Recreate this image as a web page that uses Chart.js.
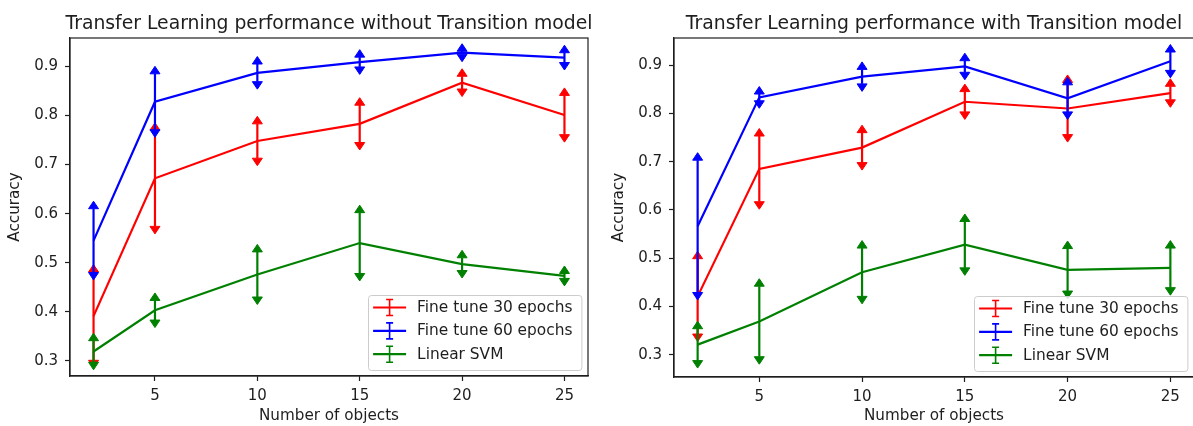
<!DOCTYPE html>
<html><head><meta charset="utf-8">
<script src="https://cdn.jsdelivr.net/npm/chart.js@4"></script>
<style>
html,body{margin:0;padding:0;background:#fff;}
body{width:1193px;height:426px;overflow:hidden;position:relative;}
.panel{position:absolute;top:0;width:600px;height:426px;}
canvas{display:block;}
</style></head><body>
<div class="panel" style="left:0"><canvas id="c1" width="600" height="426"></canvas></div>
<div class="panel" style="left:600px"><canvas id="c2" width="600" height="426"></canvas></div>
<script>
// ---- data ----
const numObjects = [2, 5, 10, 15, 20, 25];
const xTicks = [5, 10, 15, 20, 25];
const xTickLabels = ['5', '10', '15', '20', '25'];
const yTicks = [0.3, 0.4, 0.5, 0.6, 0.7, 0.8, 0.9];
const yTickLabels = ['0.3', '0.4', '0.5', '0.6', '0.7', '0.8', '0.9'];
const seriesLabels = ['Fine tune 30 epochs', 'Fine tune 60 epochs', 'Linear SVM'];
const seriesColors = ['#ff0000', '#0000ff', '#008000'];
const titleLeft = 'Transfer Learning performance without Transition model';
const titleRight = 'Transfer Learning performance with Transition model';
const xAxisLabel = 'Number of objects';
const yAxisLabel = 'Accuracy';

// without transition model
const noTrans30 = [0.391, 0.672, 0.748, 0.783, 0.867, 0.801];
const noTrans30Err = [0.090, 0.098, 0.035, 0.038, 0.013, 0.040];
const noTrans60 = [0.545, 0.828, 0.887, 0.909, 0.928, 0.918];
const noTrans60Err = [0.065, 0.057, 0.018, 0.010, 0.003, 0.010];
const noTransSVM = [0.319, 0.403, 0.476, 0.540, 0.497, 0.473];
const noTransSVMErr = [0.022, 0.020, 0.046, 0.062, 0.013, 0.005];

// with transition model
const withTrans30 = [0.421, 0.685, 0.729, 0.824, 0.810, 0.842];
const withTrans30Err = [0.078, 0.068, 0.031, 0.021, 0.054, 0.014];
const withTrans60 = [0.566, 0.833, 0.876, 0.897, 0.831, 0.908];
const withTrans60Err = [0.137, 0.007, 0.015, 0.012, 0.028, 0.019];
const withTransSVM = [0.321, 0.369, 0.471, 0.528, 0.476, 0.480];
const withTransSVMErr = [0.033, 0.073, 0.050, 0.048, 0.044, 0.041];

// ---- plugins ----
const FONT = '"DejaVu Sans", sans-serif';
const TEXT = '#1e1e1e';

const errorBarPlugin = {
  id: 'errbars',
  afterDatasetDraw(chart, args) {
    const ds = chart.data.datasets[args.index];
    if (!ds.errors) return;
    const xs = chart.scales.x, ys = chart.scales.y, ctx = chart.ctx;
    ctx.save();
    ctx.strokeStyle = ds.borderColor;
    ctx.fillStyle = ds.borderColor;
    ctx.lineJoin = 'miter';
    ds.data.forEach((p, i) => {
      const e = ds.errors[i];
      const px = xs.getPixelForValue(p.x);
      const yt = ys.getPixelForValue(p.y + e);
      const yb = ys.getPixelForValue(p.y - e);
      ctx.lineWidth = 2.2;
      ctx.beginPath(); ctx.moveTo(px, yb); ctx.lineTo(px, yt); ctx.stroke();
      ctx.lineWidth = 1;
      ctx.beginPath();
      ctx.moveTo(px - 5, yt); ctx.lineTo(px + 5, yt); ctx.lineTo(px, yt - 7.5); ctx.closePath();
      ctx.fill(); ctx.stroke();
      ctx.beginPath();
      ctx.moveTo(px - 5, yb); ctx.lineTo(px + 5, yb); ctx.lineTo(px, yb + 7.5); ctx.closePath();
      ctx.fill(); ctx.stroke();
    });
    ctx.restore();
  }
};

const panelPlugin = {
  id: 'panel',
  afterDraw(chart, args, opts) {
    const ctx = chart.ctx;
    const {left, right, top, bottom} = chart.chartArea;
    ctx.save();
    // legend
    ctx.font = '15.4px ' + FONT;
    const labels = chart.data.datasets.map(d => d.label);
    const tw = Math.max(...labels.map(l => ctx.measureText(l).width));
    const bw = 5 + 33 + 11 + tw + 9, bh = 75;
    const bx = right - opts.legendInsetRight - bw;
    const by = bottom - opts.legendInsetBottom - bh;
    ctx.beginPath();
    ctx.roundRect(Math.round(bx) + 0.5, Math.round(by) + 0.5, bw, bh, 3);
    ctx.fillStyle = 'rgba(255,255,255,0.8)';
    ctx.fill();
    ctx.strokeStyle = '#cccccc';
    ctx.lineWidth = 1;
    ctx.stroke();
    chart.data.datasets.forEach((d, i) => {
      const y = by + 13 + i * 23.35;
      const hx = bx + 5;
      ctx.strokeStyle = d.borderColor;
      ctx.lineWidth = 2.2;
      ctx.beginPath(); ctx.moveTo(hx, y); ctx.lineTo(hx + 33, y); ctx.stroke();
      const cx = hx + 16.5;
      ctx.lineWidth = 1.6;
      ctx.beginPath();
      ctx.moveTo(cx, y - 8); ctx.lineTo(cx, y + 8);
      ctx.moveTo(cx - 3.5, y - 8); ctx.lineTo(cx + 3.5, y - 8);
      ctx.moveTo(cx - 3.5, y + 8); ctx.lineTo(cx + 3.5, y + 8);
      ctx.stroke();
      ctx.fillStyle = TEXT;
      ctx.textAlign = 'left';
      ctx.textBaseline = 'middle';
      ctx.fillText(d.label, hx + 44, y + 0.5);
    });
    // frame
    ctx.strokeStyle = TEXT;
    ctx.lineWidth = 1.2;
    ctx.strokeRect(left, top, right - left, bottom - top);
    // title
    ctx.font = '18.8px ' + FONT;
    ctx.fillStyle = TEXT;
    ctx.textAlign = 'center';
    ctx.textBaseline = 'alphabetic';
    ctx.fillText(opts.title, (left + right) / 2, 28.5);
    ctx.restore();
  }
};

function makeChart(id, title, series, errors, geo) {
  const datasets = series.map((vals, k) => ({
    label: seriesLabels[k],
    data: numObjects.map((x, i) => ({x: x, y: vals[i]})),
    errors: errors[k],
    borderColor: seriesColors[k],
    backgroundColor: seriesColors[k],
    borderWidth: 2.2,
    pointRadius: 0,
    fill: false,
    tension: 0,
    order: 3 - k
  }));
  return new Chart(document.getElementById(id), {
    type: 'line',
    data: {datasets},
    plugins: [errorBarPlugin, panelPlugin],
    options: {
      responsive: false,
      animation: false,
      devicePixelRatio: 1,
      layout: {padding: {left: 0, right: geo.padRight, top: 38, bottom: 0}},
      plugins: {
        legend: {display: false},
        title: {display: false},
        tooltip: {enabled: false},
        panel: {title: title, legendInsetRight: 6.5, legendInsetBottom: 6.5}
      },
      scales: {
        x: {
          type: 'linear',
          min: 0.85, max: 26.15,
          afterBuildTicks: s => { s.ticks = xTicks.map(v => ({value: v})); },
          afterFit: s => { s.height = geo.xHeight; },
          ticks: {
            autoSkip: false, maxRotation: 0, padding: 6,
            font: {family: FONT, size: 15}, color: TEXT,
            callback: (v, i) => xTickLabels[i]
          },
          grid: {drawOnChartArea: false, drawTicks: true, tickLength: 5, tickWidth: 1.2, tickColor: TEXT},
          border: {display: true, color: TEXT, width: 1.2},
          title: {display: true, text: xAxisLabel, font: {family: FONT, size: 15.2}, color: TEXT, padding: {top: 0, bottom: 1}}
        },
        y: {
          type: 'linear',
          min: geo.ymin, max: geo.ymax,
          afterBuildTicks: s => { s.ticks = yTicks.map(v => ({value: v})); },
          afterFit: s => { s.width = geo.yWidth; },
          ticks: {
            padding: 7,
            font: {family: FONT, size: 15}, color: TEXT,
            callback: (v, i) => yTickLabels[i]
          },
          grid: {drawOnChartArea: false, drawTicks: true, tickLength: 5, tickWidth: 1.2, tickColor: TEXT},
          border: {display: true, color: TEXT, width: 1.2},
          title: {display: true, text: yAxisLabel, font: {family: FONT, size: 15.2}, color: TEXT, padding: {top: geo.yTitlePad, bottom: 0}}
        }
      }
    }
  });
}

makeChart('c1', titleLeft,
  [noTrans30, noTrans60, noTransSVM],
  [noTrans30Err, noTrans60Err, noTransSVMErr],
  {padRight: 12, xHeight: 50, yWidth: 70, ymin: 0.269, ymax: 0.958, yTitlePad: 6});

makeChart('c2', titleRight,
  [withTrans30, withTrans60, withTransSVM],
  [withTrans30Err, withTrans60Err, withTransSVMErr],
  {padRight: 6, xHeight: 49, yWidth: 74, ymin: 0.254, ymax: 0.956, yTitlePad: 10});
</script>
</body></html>
